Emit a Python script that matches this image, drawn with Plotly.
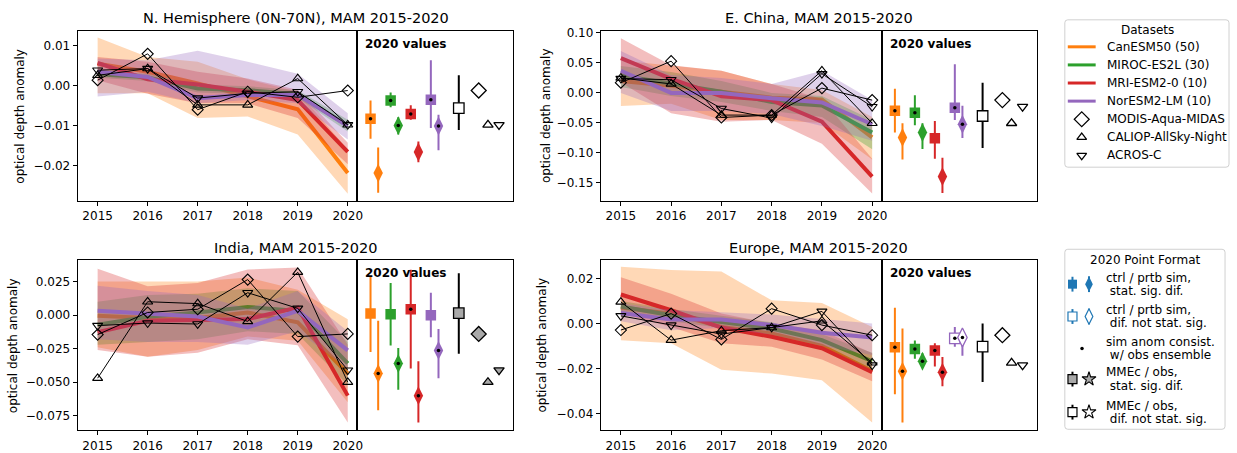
import plotly.graph_objects as go

# ---------------- data ----------------
YEARS = [2015, 2016, 2017, 2018, 2019, 2020]
MODEL_NAMES = ["CanESM50 (50)", "MIROC-ES2L (30)", "MRI-ESM2-0 (10)", "NorESM2-LM (10)"]
MODEL_COLORS = ["#ff7f0e", "#2ca02c", "#d62728", "#9467bd"]
OBS_NAMES = ["MODIS-Aqua-MIDAS", "CALIOP-AllSky-Night", "ACROS-C"]
REGION_TITLES = ["N. Hemisphere (0N-70N), MAM 2015-2020", "E. China, MAM 2015-2020",
                 "India, MAM 2015-2020", "Europe, MAM 2015-2020"]
Y_TICKS_NH = [-0.02, -0.01, 0.0, 0.01]
Y_TICKS_EC = [-0.15, -0.10, -0.05, 0.0, 0.05, 0.10]
Y_TICKS_IN = [-0.075, -0.05, -0.025, 0.0, 0.025]
Y_TICKS_EU = [-0.04, -0.02, 0.0, 0.02]

# --- N. Hemisphere ---
NH_CAN = [0.0055, 0.0035, 0.0006, -0.0027, -0.0059, -0.0219]
NH_CAN_LO = [-0.0019, -0.0019, -0.0081, -0.0077, -0.0122, -0.0271]
NH_CAN_HI = [0.0121, 0.0072, 0.0060, 0.0016, -0.0015, -0.0160]
NH_MIR = [0.0029, 0.0021, -0.0007, -0.0011, -0.0021, -0.0100]
NH_MIR_LO = [0.0020, 0.0012, -0.0017, -0.0021, -0.0031, -0.0115]
NH_MIR_HI = [0.0038, 0.0030, 0.0003, -0.0001, -0.0011, -0.0085]
NH_MRI = [0.0057, 0.0016, 0.0003, -0.0015, -0.0036, -0.0166]
NH_MRI_LO = [0.0014, -0.0020, -0.0044, -0.0044, -0.0081, -0.0197]
NH_MRI_HI = [0.0072, 0.0060, 0.0035, 0.0018, -0.0010, -0.0143]
NH_NOR = [0.0035, 0.0022, -0.0031, -0.0023, -0.0023, -0.0101]
NH_NOR_LO = [-0.0027, -0.0015, -0.0044, -0.0036, -0.0044, -0.0135]
NH_NOR_HI = [0.0068, 0.0064, 0.0088, 0.0060, 0.0030, -0.0069]
NH_MODIS = [0.0014, 0.0080, -0.0060, -0.0015, -0.0029, -0.0012]
NH_CALIOP = [0.0026, 0.0043, -0.0048, -0.0048, 0.0018, -0.0098]
NH_ACROS = [0.0039, 0.0043, -0.0031, -0.0019, -0.0015, -0.0098]
NH_CTRL = [-0.0083, -0.0037, -0.0071, -0.0035]
NH_CTRL_LO = [-0.0133, -0.0054, -0.0085, -0.0106]
NH_CTRL_HI = [-0.0037, -0.0017, -0.0049, 0.0064]
NH_PRTB_LO = [-0.0268, -0.0122, -0.0192, -0.0162]
NH_PRTB_HI = [-0.0155, -0.0079, -0.0140, -0.0073]
NH_SIG_CTRL = [True, True, True, True]
NH_SIG_PRTB = [True, True, True, True]
NH_CONS_CTRL = [True, True, True, True]
NH_CONS_PRTB = [False, True, False, True]
NH_MMEC = [-0.0056, -0.0111, 0.0026]   # value, low, high
NH_MMEC_SIG = False

# --- E. China ---
EC_CAN = [0.020, 0.012, 0.002, -0.008, -0.011, -0.0742]
EC_CAN_LO = [-0.022, -0.018, -0.045, -0.045, -0.050, -0.111]
EC_CAN_HI = [0.054, 0.046, 0.037, 0.015, 0.005, -0.040]
EC_MIR = [0.029, 0.015, 0.002, -0.015, -0.021, -0.066]
EC_MIR_LO = [0.010, -0.005, -0.015, -0.030, -0.040, -0.094]
EC_MIR_HI = [0.045, 0.035, 0.020, 0.000, -0.005, -0.045]
EC_MRI = [0.058, 0.0236, -0.0055, -0.012, -0.0478, -0.1396]
EC_MRI_LO = [0.018, -0.034, -0.048, -0.045, -0.085, -0.168]
EC_MRI_HI = [0.091, 0.046, 0.037, 0.015, -0.010, -0.110]
EC_NOR = [0.037, 0.000, 0.000, -0.009, -0.016, -0.0523]
EC_NOR_LO = [0.000, -0.030, -0.030, -0.035, -0.055, -0.080]
EC_NOR_HI = [0.070, 0.030, 0.025, 0.015, 0.037, -0.012]
EC_MODIS = [0.017, 0.053, -0.041, -0.037, 0.008, -0.012]
EC_CALIOP = [0.025, 0.015, -0.037, -0.037, 0.037, -0.0506]
EC_ACROS = [0.024, 0.022, -0.026, -0.042, 0.032, -0.023]
EC_CTRL = [-0.0297, -0.033, -0.0758, -0.0247]
EC_CTRL_LO = [-0.066, -0.054, -0.110, -0.045]
EC_CTRL_HI = [0.0071, -0.004, -0.0468, 0.048]
EC_PRTB_LO = [-0.111, -0.0935, -0.167, -0.0753]
EC_PRTB_HI = [-0.0506, -0.0506, -0.108, -0.0214]
EC_SIG_CTRL = [True, True, True, True]
EC_SIG_PRTB = [True, True, True, True]
EC_CONS_CTRL = [True, True, False, True]
EC_CONS_PRTB = [False, False, False, True]
EC_MMEC = [-0.0385, -0.0918, 0.017]
EC_MMEC_SIG = False

# --- India ---
IN_CAN = [-0.0005, -0.0022, -0.0022, 0.0020, -0.0054, -0.0435]
IN_CAN_LO = [-0.024, -0.031, -0.026, -0.016, -0.019, -0.065]
IN_CAN_HI = [0.025, 0.025, 0.025, 0.028, 0.019, -0.003]
IN_MIR = [-0.0071, -0.0012, 0.0020, 0.0061, 0.0032, -0.036]
IN_MIR_LO = [-0.022, -0.020, -0.018, -0.012, -0.014, -0.052]
IN_MIR_HI = [0.010, 0.015, 0.016, 0.020, 0.018, -0.020]
IN_MRI = [-0.0127, -0.0042, -0.0037, -0.0029, 0.0056, -0.060]
IN_MRI_LO = [-0.026, -0.031, -0.028, -0.018, -0.0225, -0.080]
IN_MRI_HI = [0.0345, 0.0216, 0.024, 0.034, 0.0355, -0.022]
IN_NOR = [0.0032, 0.0012, -0.0010, -0.0091, 0.0032, -0.0263]
IN_NOR_LO = [-0.018, -0.020, -0.020, -0.022, -0.012, -0.040]
IN_NOR_HI = [0.022, 0.018, 0.015, 0.005, 0.018, -0.012]
IN_MODIS = [-0.0145, 0.0020, 0.0044, 0.0265, -0.016, -0.014]
IN_CALIOP = [-0.047, 0.010, 0.0086, -0.0047, 0.032, -0.050]
IN_ACROS = [-0.0078, -0.0059, -0.0066, 0.0167, 0.0051, -0.041]
IN_CTRL = [0.0012, 0.0007, 0.0044, 0.0000]
IN_CTRL_LO = [-0.0275, -0.0226, -0.0397, -0.0165]
IN_CTRL_HI = [0.0289, 0.024, 0.0338, 0.0166]
IN_PRTB_LO = [-0.0709, -0.0557, -0.080, -0.047]
IN_PRTB_HI = [-0.0042, -0.0245, -0.0343, -0.0103]
IN_SIG_CTRL = [True, True, True, True]
IN_SIG_PRTB = [True, True, True, True]
IN_CONS_CTRL = [False, False, True, False]
IN_CONS_PRTB = [True, True, True, True]
IN_MMEC = [0.0015, -0.0287, 0.0313]
IN_MMEC_SIG = True

# --- Europe ---
EU_CAN = [0.0071, 0.0044, -0.0015, -0.0044, -0.0100, -0.0212]
EU_CAN_LO = [-0.0074, -0.0088, -0.0206, -0.0223, -0.0253, -0.044]
EU_CAN_HI = [0.0253, 0.0238, 0.0232, 0.0103, 0.0091, -0.0015]
EU_MIR = [0.0076, 0.0037, 0.0007, -0.0022, -0.0074, -0.0168]
EU_MIR_LO = [0.0050, 0.0010, -0.0020, -0.0050, -0.0100, -0.0210]
EU_MIR_HI = [0.0100, 0.0065, 0.0035, 0.0006, -0.0048, -0.0130]
EU_MRI = [0.0129, 0.0059, -0.0018, -0.0059, -0.0110, -0.0217]
EU_MRI_LO = [0.0044, -0.0015, -0.0088, -0.0103, -0.0160, -0.0257]
EU_MRI_HI = [0.0206, 0.0132, 0.0044, 0.0000, -0.0030, -0.0132]
EU_NOR = [0.0047, 0.0018, 0.0018, -0.0007, -0.0041, -0.0062]
EU_NOR_LO = [0.0010, -0.0030, -0.0020, -0.0050, -0.0100, -0.0140]
EU_NOR_HI = [0.0090, 0.0060, 0.0050, 0.0040, 0.0020, 0.0000]
EU_MODIS = [-0.0029, 0.0044, -0.0071, 0.0066, -0.0007, -0.0052]
EU_CALIOP = [0.0096, -0.0074, -0.0032, -0.0018, 0.0012, -0.0175]
EU_ACROS = [0.0034, -0.0007, -0.0047, -0.0018, 0.0054, -0.0185]
EU_CTRL = [-0.0106, -0.0113, -0.0120, -0.0066]
EU_CTRL_LO = [-0.0315, -0.0157, -0.0191, -0.0103]
EU_CTRL_HI = [0.0070, -0.0076, -0.0088, -0.0015]
EU_PRTB_LO = [-0.044, -0.0198, -0.0279, -0.0144]
EU_PRTB_HI = [-0.0022, -0.0132, -0.0149, -0.0025]
EU_SIG_CTRL = [True, True, True, False]
EU_SIG_PRTB = [True, True, True, False]
EU_CONS_CTRL = [True, True, True, True]
EU_CONS_PRTB = [True, True, True, True]
EU_MMEC = [-0.0103, -0.026, 0.0]
EU_MMEC_SIG = False

LEGEND2_LINES = [["ctrl / prtb sim,", " stat. sig. dif."],
                 ["ctrl / prtb sim,", " dif. not stat. sig."],
                 ["sim anom consist.", " w/ obs ensemble"],
                 ["MMEc / obs,", " stat. sig. dif."],
                 ["MMEc / obs,", " dif. not stat. sig."]]

# ---------------- assembled tables ----------------
REGIONS = [
    dict(title=REGION_TITLES[0], yticks=Y_TICKS_NH, fmt=".2f",
         mean=[NH_CAN, NH_MIR, NH_MRI, NH_NOR], lo=[NH_CAN_LO, NH_MIR_LO, NH_MRI_LO, NH_NOR_LO],
         hi=[NH_CAN_HI, NH_MIR_HI, NH_MRI_HI, NH_NOR_HI], obs=[NH_MODIS, NH_CALIOP, NH_ACROS],
         ctrl=NH_CTRL, ctrl_lo=NH_CTRL_LO, ctrl_hi=NH_CTRL_HI, prtb_lo=NH_PRTB_LO, prtb_hi=NH_PRTB_HI,
         sig_c=NH_SIG_CTRL, sig_p=NH_SIG_PRTB, cons_c=NH_CONS_CTRL, cons_p=NH_CONS_PRTB,
         mmec=NH_MMEC, mmec_sig=NH_MMEC_SIG),
    dict(title=REGION_TITLES[1], yticks=Y_TICKS_EC, fmt=".2f",
         mean=[EC_CAN, EC_MIR, EC_MRI, EC_NOR], lo=[EC_CAN_LO, EC_MIR_LO, EC_MRI_LO, EC_NOR_LO],
         hi=[EC_CAN_HI, EC_MIR_HI, EC_MRI_HI, EC_NOR_HI], obs=[EC_MODIS, EC_CALIOP, EC_ACROS],
         ctrl=EC_CTRL, ctrl_lo=EC_CTRL_LO, ctrl_hi=EC_CTRL_HI, prtb_lo=EC_PRTB_LO, prtb_hi=EC_PRTB_HI,
         sig_c=EC_SIG_CTRL, sig_p=EC_SIG_PRTB, cons_c=EC_CONS_CTRL, cons_p=EC_CONS_PRTB,
         mmec=EC_MMEC, mmec_sig=EC_MMEC_SIG),
    dict(title=REGION_TITLES[2], yticks=Y_TICKS_IN, fmt=".3f",
         mean=[IN_CAN, IN_MIR, IN_MRI, IN_NOR], lo=[IN_CAN_LO, IN_MIR_LO, IN_MRI_LO, IN_NOR_LO],
         hi=[IN_CAN_HI, IN_MIR_HI, IN_MRI_HI, IN_NOR_HI], obs=[IN_MODIS, IN_CALIOP, IN_ACROS],
         ctrl=IN_CTRL, ctrl_lo=IN_CTRL_LO, ctrl_hi=IN_CTRL_HI, prtb_lo=IN_PRTB_LO, prtb_hi=IN_PRTB_HI,
         sig_c=IN_SIG_CTRL, sig_p=IN_SIG_PRTB, cons_c=IN_CONS_CTRL, cons_p=IN_CONS_PRTB,
         mmec=IN_MMEC, mmec_sig=IN_MMEC_SIG),
    dict(title=REGION_TITLES[3], yticks=Y_TICKS_EU, fmt=".2f",
         mean=[EU_CAN, EU_MIR, EU_MRI, EU_NOR], lo=[EU_CAN_LO, EU_MIR_LO, EU_MRI_LO, EU_NOR_LO],
         hi=[EU_CAN_HI, EU_MIR_HI, EU_MRI_HI, EU_NOR_HI], obs=[EU_MODIS, EU_CALIOP, EU_ACROS],
         ctrl=EU_CTRL, ctrl_lo=EU_CTRL_LO, ctrl_hi=EU_CTRL_HI, prtb_lo=EU_PRTB_LO, prtb_hi=EU_PRTB_HI,
         sig_c=EU_SIG_CTRL, sig_p=EU_SIG_PRTB, cons_c=EU_CONS_CTRL, cons_p=EU_CONS_PRTB,
         mmec=EU_MMEC, mmec_sig=EU_MMEC_SIG),
]

# ---------------- layout constants (pixels) ----------------
W, H = 1237, 453
FONT = "DejaVu Sans"
# main_x0, main_x1(=inset_x0), inset_x1, top, bottom, y range, ylabel x
PANELS = [
    (78, 359, 516, 27, 199, [-0.02885, 0.0138], 20),
    (603.7, 886, 1042, 27, 199, [-0.180, 0.1038], 548),
    (78, 359, 516, 259, 431, [-0.0858, 0.041], 13),
    (603.7, 886, 1042, 259, 431, [-0.0475, 0.0282], 545),
]
X_RANGE = [2014.6, 2020.19]
INSET_RANGE = [-0.85, 6.92]
CTRL_OFF, PRTB_OFF = -0.19, 0.19
MMEC_POS = 4.2
OBS_POS = [5.19, 5.65, 6.2]
OBS_SYMBOLS = ["diamond", "triangle-up", "triangle-down"]
GRAY = "#a9a9a9"


def rgba(hexc, a):
    h = hexc.lstrip("#")
    return "rgba(%d,%d,%d,%.2f)" % (int(h[0:2], 16), int(h[2:4], 16), int(h[4:6], 16), a)


def xdom(a, b):
    return [a / W, b / W]


def ydom(top, bottom):
    return [1 - bottom / H, 1 - top / H]


fig = go.Figure()
annotations = []
shapes = []
layout_axes = {}

for k, (reg, pan) in enumerate(zip(REGIONS, PANELS)):
    mx0, mx1, ix1, top, bot, yr, ylab_x = pan
    am = 2 * k + 1
    ai = 2 * k + 2
    xm, ym = "x%d" % am, "y%d" % am
    xi, yi = "x%d" % ai, "y%d" % ai

    # main panel: bands + lines per model
    for m in range(4):
        col = MODEL_COLORS[m]
        fig.add_trace(go.Scatter(x=YEARS + YEARS[::-1], y=reg["hi"][m] + reg["lo"][m][::-1],
                                 fill="toself", fillcolor=rgba(col, 0.3), line=dict(width=0),
                                 mode="lines", showlegend=False, hoverinfo="skip",
                                 xaxis=xm, yaxis=ym))
        fig.add_trace(go.Scatter(x=YEARS, y=reg["mean"][m], mode="lines",
                                 line=dict(color=col, width=4), showlegend=False,
                                 xaxis=xm, yaxis=ym))
    for o in range(3):
        fig.add_trace(go.Scatter(x=YEARS, y=reg["obs"][o], mode="lines+markers",
                                 line=dict(color="black", width=1),
                                 marker=dict(symbol=OBS_SYMBOLS[o] + "-open",
                                             size=8.5 if o == 0 else 8.8,
                                             color="black", line=dict(color="black", width=1.1)),
                                 showlegend=False, xaxis=xm, yaxis=ym))

    # inset: 2020 values
    dots_x, dots_y = [], []
    for m in range(4):
        col = MODEL_COLORS[m]
        v = reg["ctrl"][m]
        sig = reg["sig_c"][m]
        fig.add_trace(go.Scatter(
            x=[m + CTRL_OFF], y=[v], mode="markers", showlegend=False, xaxis=xi, yaxis=yi,
            marker=dict(symbol="square", size=10.5, color=col if sig else "white",
                        line=dict(color=col, width=0 if sig else 1.3)),
            error_y=dict(type="data", symmetric=False, array=[reg["ctrl_hi"][m] - v],
                         arrayminus=[v - reg["ctrl_lo"][m]], color=col, thickness=2, width=0)))
        if reg["cons_c"][m]:
            dots_x.append(m + CTRL_OFF)
            dots_y.append(v)
        v = reg["mean"][m][-1]
        sig = reg["sig_p"][m]
        fig.add_trace(go.Scatter(
            x=[m + PRTB_OFF], y=[v], mode="markers", showlegend=False, xaxis=xi, yaxis=yi,
            marker=dict(symbol="diamond-tall", size=13.5, color=col if sig else "white",
                        line=dict(color=col, width=0 if sig else 1.3)),
            error_y=dict(type="data", symmetric=False, array=[reg["prtb_hi"][m] - v],
                         arrayminus=[v - reg["prtb_lo"][m]], color=col, thickness=2, width=0)))
        if reg["cons_p"][m]:
            dots_x.append(m + PRTB_OFF)
            dots_y.append(v)
    mv, mlo, mhi = reg["mmec"]
    fill = GRAY if reg["mmec_sig"] else "white"
    fig.add_trace(go.Scatter(
        x=[MMEC_POS], y=[mv], mode="markers", showlegend=False, xaxis=xi, yaxis=yi,
        marker=dict(symbol="square", size=10.5, color=fill, line=dict(color="black", width=1.3)),
        error_y=dict(type="data", symmetric=False, array=[mhi - mv], arrayminus=[mv - mlo],
                     color="black", thickness=2, width=0)))
    for o in range(3):
        fig.add_trace(go.Scatter(
            x=[OBS_POS[o]], y=[reg["obs"][o][-1]], mode="markers", showlegend=False,
            xaxis=xi, yaxis=yi,
            marker=dict(symbol=OBS_SYMBOLS[o], size=11.5 if o == 0 else 9, color=fill,
                        line=dict(color="black", width=1.3))))
    fig.add_trace(go.Scatter(x=dots_x, y=dots_y, mode="markers", showlegend=False,
                             xaxis=xi, yaxis=yi,
                             marker=dict(symbol="circle", size=3.5, color="black")))

    # axes
    layout_axes["xaxis%d" % am] = dict(
        domain=xdom(mx0, mx1), anchor=ym, range=X_RANGE, tickvals=YEARS,
        ticktext=[str(y) for y in YEARS], ticks="outside", ticklen=4, tickwidth=1,
        tickcolor="black", showline=True, linecolor="black", linewidth=1, mirror=True,
        showgrid=False, zeroline=False, tickfont=dict(size=12, color="black", family=FONT))
    layout_axes["yaxis%d" % am] = dict(
        domain=ydom(top, bot), anchor=xm, range=yr, tickvals=reg["yticks"], tickformat=reg["fmt"],
        ticks="outside", ticklen=4, tickwidth=1, tickcolor="black", showline=True,
        linecolor="black", linewidth=1, mirror=True, showgrid=False, zeroline=False,
        tickfont=dict(size=12, color="black", family=FONT))
    layout_axes["xaxis%d" % ai] = dict(
        domain=xdom(mx1, ix1), anchor=yi, range=INSET_RANGE, showticklabels=False, ticks="",
        showline=True, linecolor="black", linewidth=1, mirror=True, showgrid=False,
        zeroline=False)
    layout_axes["yaxis%d" % ai] = dict(
        domain=ydom(top, bot), anchor=xi, range=yr, showticklabels=False, ticks="",
        showline=True, linecolor="black", linewidth=1, mirror=True, showgrid=False,
        zeroline=False)

    annotations.append(dict(text=reg["title"], x=(mx0 + ix1) / 2 / W, y=1 - (top - 12.5) / H,
                            xref="paper", yref="paper", showarrow=False, xanchor="center",
                            yanchor="middle", font=dict(size=14.5, color="black", family=FONT)))
    annotations.append(dict(text="<b>2020 values</b>", x=(mx1 + 6) / W, y=1 - (top + 13) / H,
                            xref="paper", yref="paper", showarrow=False, xanchor="left",
                            yanchor="middle", font=dict(size=12, color="black", family=FONT)))
    annotations.append(dict(text="optical depth anomaly", x=ylab_x / W, y=1 - (top + bot) / 2 / H,
                            xref="paper", yref="paper", showarrow=False, textangle=-90,
                            xanchor="center", yanchor="middle",
                            font=dict(size=12, color="black", family=FONT)))

# ---------------- legends (drawn on a pixel-unit helper axis) ----------------
LX0 = 1055
layout_axes["xaxis9"] = dict(domain=xdom(LX0, W), anchor="y9", range=[LX0, W], visible=False)
layout_axes["yaxis9"] = dict(domain=[0, 1], anchor="x9", range=[H, 0], visible=False)


def rrect(x0, y0, x1, y1, r=3):
    return ("M%f,%f L%f,%f Q%f,%f %f,%f L%f,%f Q%f,%f %f,%f L%f,%f Q%f,%f %f,%f "
            "L%f,%f Q%f,%f %f,%f Z" % (x0 + r, y0, x1 - r, y0, x1, y0, x1, y0 + r,
                                       x1, y1 - r, x1, y1, x1 - r, y1,
                                       x0 + r, y1, x0, y1, x0, y1 - r,
                                       x0, y0 + r, x0, y0, x0 + r, y0))


def legend_text(txt, x, y, size=12, anchor="left"):
    annotations.append(dict(text=txt, x=x, y=y, xref="x9", yref="y9", showarrow=False,
                            xanchor=anchor, yanchor="middle",
                            font=dict(size=size, color="black", family=FONT)))


shapes.append(dict(type="path", path=rrect(1070, 16, 1235, 165), xref="x9", yref="y9",
                   line=dict(color="#d0d0d0", width=1), fillcolor="white", layer="below"))
legend_text("Datasets", 1153, 26.5, anchor="center")
ROW0, DROW = 43.3, 18.3
for m in range(4):
    yy = ROW0 + DROW * m
    fig.add_trace(go.Scatter(x=[1073, 1101], y=[yy, yy], mode="lines", showlegend=False,
                             line=dict(color=MODEL_COLORS[m], width=3), xaxis="x9", yaxis="y9"))
    legend_text(MODEL_NAMES[m], 1110, yy)
for o in range(3):
    yy = ROW0 + DROW * (4 + o)
    fig.add_trace(go.Scatter(x=[1087], y=[yy], mode="markers", showlegend=False,
                             marker=dict(symbol=OBS_SYMBOLS[o] + "-open", size=11.5 if o == 0 else 8.5,
                                         color="black", line=dict(color="black", width=1.2)),
                             xaxis="x9", yaxis="y9"))
    legend_text(OBS_NAMES[o], 1110, yy)

shapes.append(dict(type="path", path=rrect(1070, 248, 1231, 430), xref="x9", yref="y9",
                   line=dict(color="#d0d0d0", width=1), fillcolor="white", layer="below"))
legend_text("2020 Point Format", 1150.7, 258.5, anchor="center")
BLUE = "#1f77b4"
ROWS2 = [283.3, 316, 348.3, 379.3, 412.7]
ICON_SQ_X, ICON_SYM_X, ICON_DOT_X = 1077.7, 1094.3, 1087.3
icon_styles = [
    (BLUE, BLUE, "diamond-tall"),
    ("white", BLUE, "diamond-tall"),
    None,
    (GRAY, "black", "star"),
    ("white", "black", "star"),
]
for r, yy in enumerate(ROWS2):
    st = icon_styles[r]
    if st is None:
        fig.add_trace(go.Scatter(x=[ICON_DOT_X], y=[yy], mode="markers", showlegend=False,
                                 marker=dict(size=3.5, color="black"), xaxis="x9", yaxis="y9"))
    else:
        fillc, edgec, sym = st
        filled = fillc != "white"
        fig.add_trace(go.Scatter(
            x=[ICON_SQ_X], y=[yy], mode="markers", showlegend=False, xaxis="x9", yaxis="y9",
            marker=dict(symbol="square", size=9, color=fillc,
                        line=dict(color=edgec, width=0 if (filled and edgec == fillc) else 1.2)),
            error_y=dict(type="data", array=[7.5], arrayminus=[7.5], color=edgec,
                         thickness=2, width=0)))
        if sym == "star":
            fig.add_trace(go.Scatter(
                x=[ICON_SYM_X], y=[yy], mode="markers", showlegend=False, xaxis="x9", yaxis="y9",
                marker=dict(symbol="star", size=10.5, color=fillc, line=dict(color=edgec, width=1.1))))
        else:
            fig.add_trace(go.Scatter(
                x=[ICON_SYM_X], y=[yy], mode="markers", showlegend=False, xaxis="x9", yaxis="y9",
                marker=dict(symbol=sym, size=11, color=fillc,
                            line=dict(color=edgec, width=0 if filled else 1.2)),
                error_y=dict(type="data", array=[8], arrayminus=[8], color=edgec,
                             thickness=2, width=0)))
    l1, l2 = LEGEND2_LINES[r]
    legend_text(l1, 1109.3, yy - 6.7)
    legend_text(l2.replace(" ", "\u00a0", 1), 1109.3, yy + 6.9)

fig.update_layout(
    width=W, height=H, margin=dict(l=0, r=0, t=0, b=0), autosize=False,
    paper_bgcolor="white", plot_bgcolor="rgba(0,0,0,0)",
    font=dict(family=FONT, size=12, color="black"),
    showlegend=False, annotations=annotations, shapes=shapes, **layout_axes)

fig.write_html("out.html", config={"displayModeBar": False},
               post_script="document.body.style.margin='0';document.body.style.padding='0';")
